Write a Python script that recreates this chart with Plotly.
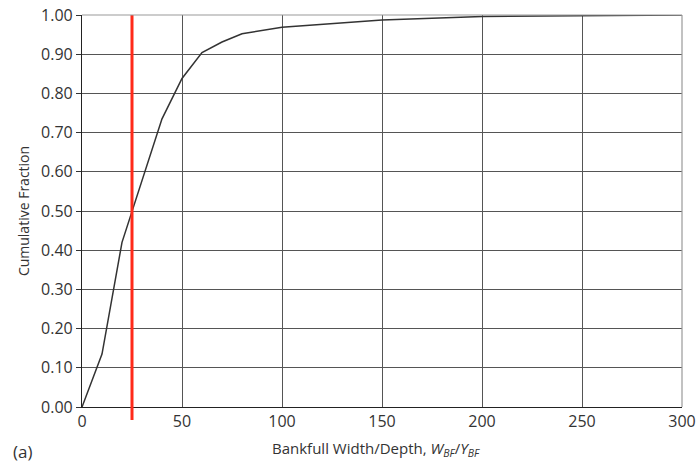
import plotly.graph_objects as go

# Cumulative distribution of bankfull width/depth ratio
ratio = [0, 10, 20, 25, 30, 40, 50, 60, 70, 80, 100, 150, 200, 250, 300]
cum_fraction = [0.0, 0.135, 0.42, 0.50, 0.58, 0.735, 0.838, 0.904, 0.931, 0.952, 0.969, 0.987, 0.996, 0.998, 1.0]

median_ratio = 25
x_ticks = [0, 50, 100, 150, 200, 250, 300]
y_ticks = [i / 10 for i in range(11)]
y_labels = [f"{v:.2f}" for v in y_ticks]

font_family = "Open Sans, Lato, sans-serif"
text_color = "#333333"

fig = go.Figure()

fig.add_trace(go.Scatter(
    x=ratio, y=cum_fraction, mode="lines",
    line=dict(color="#333333", width=1.5),
    showlegend=False, hoverinfo="skip",
))

# Median marker line, extending slightly below the axis
fig.add_shape(
    type="line", xref="x", yref="paper",
    x0=median_ratio, x1=median_ratio, y0=-0.033, y1=1.0,
    line=dict(color="#ff2a1a", width=3),
)

fig.update_layout(
    width=698, height=463,
    margin=dict(l=82, r=16, t=15, b=56, autoexpand=False),
    paper_bgcolor="white", plot_bgcolor="white",
    font=dict(family=font_family, size=16, color=text_color),
    xaxis=dict(
        range=[0, 300], tickvals=x_ticks, ticktext=[str(t) for t in x_ticks],
        showgrid=True, gridcolor="#555555", gridwidth=1,
        showline=True, linecolor="#222222", linewidth=1.2,
        ticks="", zeroline=False, automargin=False,
        tickfont=dict(size=16, color=text_color),
    ),
    yaxis=dict(
        range=[0, 1.0], tickvals=y_ticks, ticktext=y_labels,
        showgrid=True, gridcolor="#555555", gridwidth=1,
        showline=True, linecolor="#222222", linewidth=1.2,
        ticks="outside", ticklen=5, tickcolor="#333333",
        zeroline=False, automargin=False,
        tickfont=dict(size=16, color=text_color),
        title=dict(text="Cumulative Fraction", font=dict(size=14, color=text_color), standoff=8),
    ),
    annotations=[
        dict(
            text="Bankfull Width/Depth, <i>W</i><sub><i>BF</i></sub>/<i>Y</i><sub><i>BF</i></sub>",
            xref="paper", yref="paper", x=0.3133, y=-0.108,
            xanchor="left", yanchor="middle", showarrow=False,
            font=dict(size=15, color=text_color),
        ),
        dict(
            text="(a)", xref="paper", yref="paper", x=-0.118, y=-0.114,
            xanchor="left", yanchor="middle", showarrow=False,
            font=dict(size=17, color=text_color),
        ),
    ],
)

# Light frame on the top and right edges
fig.add_shape(type="line", xref="paper", yref="paper", x0=0, x1=1, y0=1, y1=1,
              line=dict(color="#999999", width=1.2))
fig.add_shape(type="line", xref="paper", yref="paper", x0=1, x1=1, y0=0, y1=1,
              line=dict(color="#999999", width=1.2))

fig.write_html("out.html")
